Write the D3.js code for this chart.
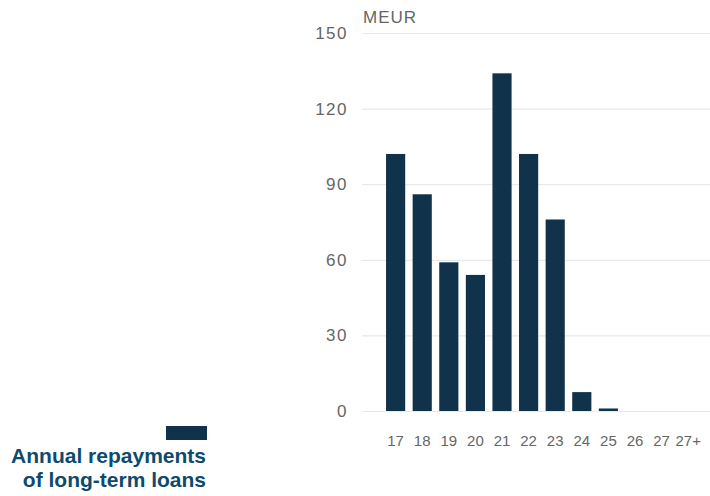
<!DOCTYPE html>
<html><head><meta charset="utf-8">
<script src="https://cdn.jsdelivr.net/npm/d3@7"></script>
<style>body{margin:0;background:#fff}svg{display:block}</style>
</head><body><svg id="c" width="710" height="496"></svg>
<script>
const categories = ["17","18","19","20","21","22","23","24","25","26","27","27+"];
const values = [102, 86, 59, 54, 134, 102, 76, 7.5, 1, 0, 0, 0];
const yTicks = [0, 30, 60, 90, 120, 150];
const unitLabel = "MEUR";
const legendLines = ["Annual repayments", "of long-term loans"];

const svg = d3.select("#c");
const x = d3.scaleBand().domain(categories).range([378.6, 705.2]).padding(0.28);
const y = d3.scaleLinear().domain([0, 150]).range([411, 33]);
const font = "'Liberation Sans', Arial, sans-serif";

const yAxis = d3.axisLeft(y).tickValues(yTicks).tickSize(-(710 - 362)).tickPadding(14);
const gy = svg.append("g").attr("transform", "translate(362,0)").call(yAxis);
gy.select(".domain").remove();
gy.selectAll(".tick line").attr("stroke", "#e9e9e9").attr("stroke-width", 1.2);
gy.selectAll(".tick text").attr("fill", "#666").attr("font-family", font).attr("font-size", 17)
  .attr("letter-spacing", 1.5);

svg.append("text").attr("x", 363).attr("y", 23).attr("fill", "#666")
  .attr("font-family", font).attr("font-size", 17).attr("letter-spacing", 1).text(unitLabel);

svg.append("g").selectAll("rect").data(values).join("rect")
  .attr("x", (d, i) => x(categories[i]))
  .attr("width", x.bandwidth())
  .attr("y", d => y(d))
  .attr("height", d => y(0) - y(d))
  .attr("fill", "#11324b");

const xAxis = d3.axisBottom(x).tickSize(0).tickPadding(24);
const gx = svg.append("g").attr("transform", "translate(0,411)").call(xAxis);
gx.select(".domain").remove();
gx.selectAll(".tick text").attr("fill", "#666").attr("font-family", font).attr("font-size", 15);

svg.append("rect").attr("x", 166).attr("y", 426).attr("width", 41).attr("height", 14).attr("fill", "#11324b");
svg.append("g").selectAll("text").data(legendLines).join("text")
  .attr("x", 206).attr("y", (d, i) => 463 + i * 24)
  .attr("text-anchor", "end").attr("fill", "#0e4a6e")
  .attr("font-family", font).attr("font-weight", "bold").attr("font-size", 21)
  .text(d => d);
</script></body></html>
